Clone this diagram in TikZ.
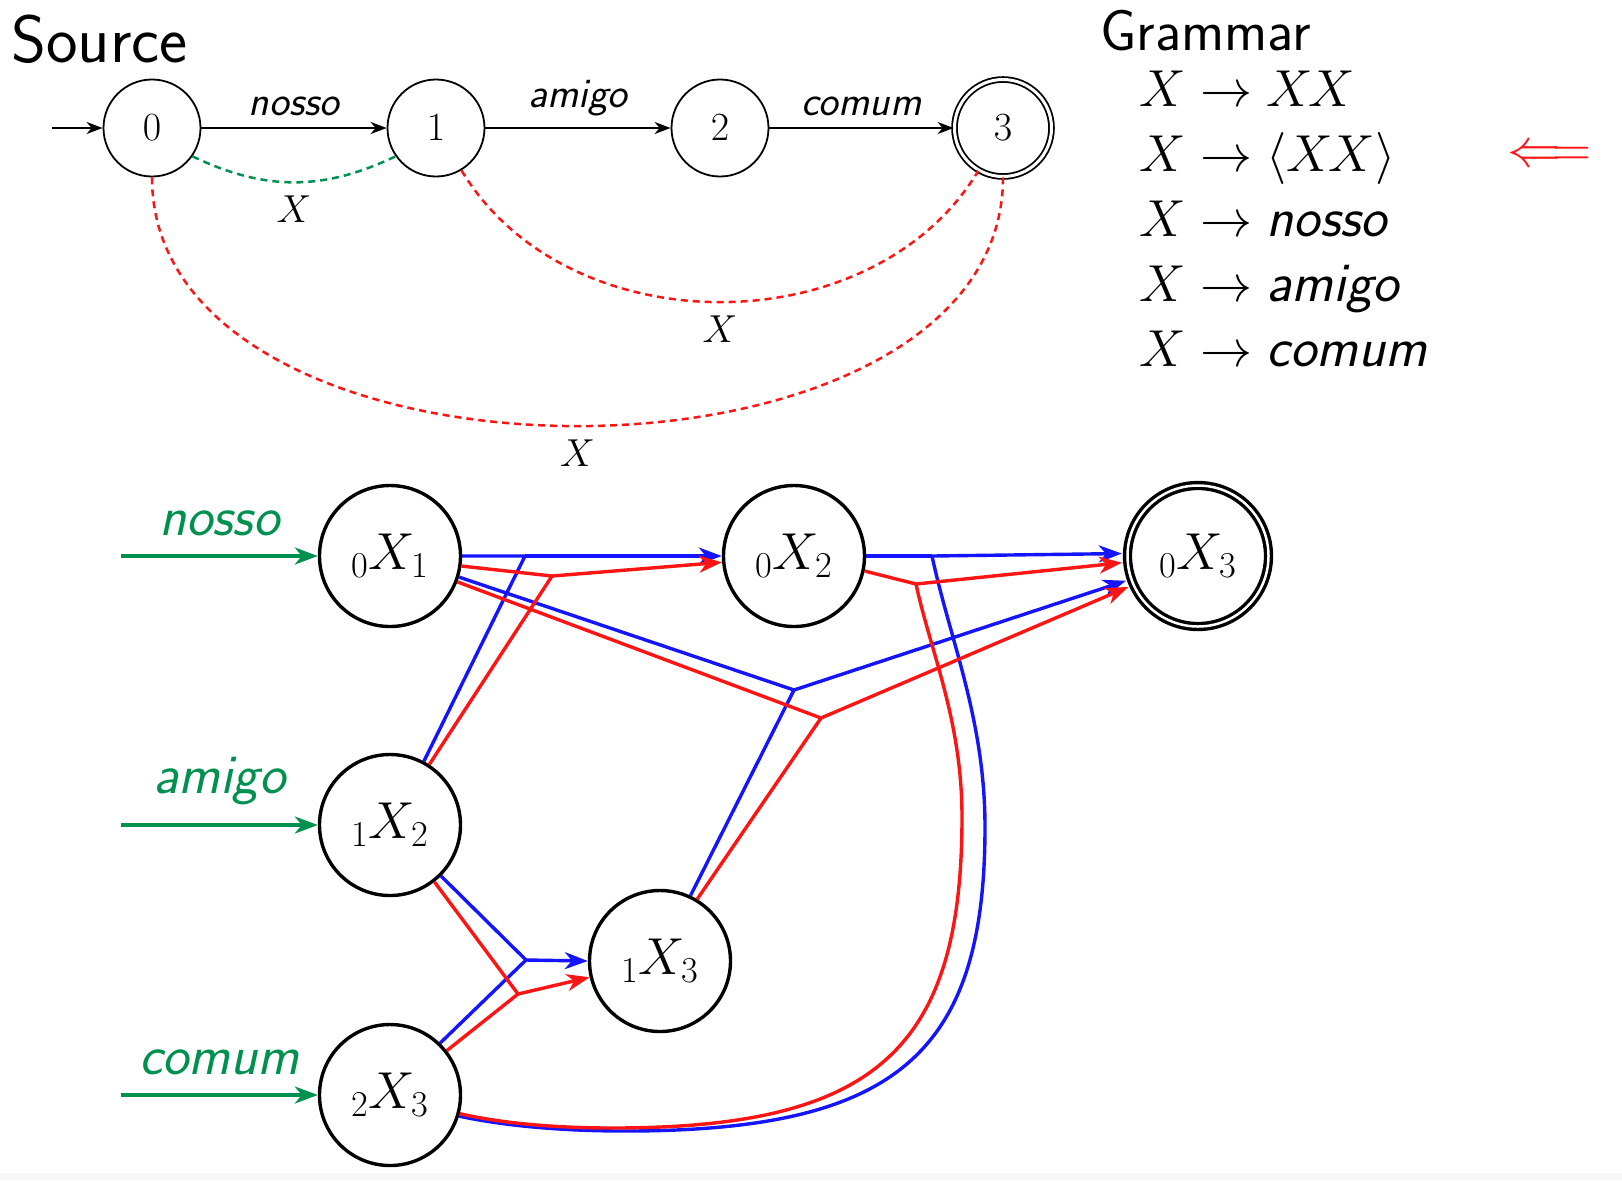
\RequirePackage{fix-cm}
\documentclass[tikz,border=0pt]{standalone}
\usepackage{fontspec}
\usetikzlibrary{arrows.meta}
\definecolor{mygreen}{RGB}{0,145,80}
\definecolor{myblue}{RGB}{20,20,255}
\definecolor{myred}{RGB}{255,20,20}
\begin{document}
\begin{tikzpicture}[x=0.5pt,y=-0.5pt,
  snode/.style={circle, draw, line width=0.9pt, minimum size=48.5pt, inner sep=0pt, font=\fontsize{20}{24}\selectfont},
  tarr/.style={line width=1pt, -{Stealth[length=8pt,width=6pt,inset=2.5pt]}},
  elab/.style={inner sep=5.5pt, font=\sffamily\itshape\fontsize{21}{25}\selectfont},
  xlab/.style={inner sep=6.3pt, font=\fontsize{19.5}{23}\selectfont},
  gdash/.style={mygreen, line width=1.25pt, dash pattern=on 3.5pt off 2.5pt},
  rdash/.style={myred, line width=1.25pt, dash pattern=on 3.5pt off 2.5pt},
  bnode/.style={circle, draw, line width=1.7pt, minimum size=70.5pt, inner sep=0pt, font=\fontsize{26}{30}\selectfont},
  hb/.style={myblue, line width=1.7pt},
  hr/.style={myred, line width=1.7pt},
  harr/.style={-{Stealth[length=11.5pt,width=8.5pt,inset=3.5pt]}},
  garr/.style={mygreen, line width=1.7pt, -{Stealth[length=11.5pt,width=8.5pt,inset=3.5pt]}},
  glab/.style={mygreen, inner sep=9pt, font=\sffamily\itshape\fontsize{28}{32}\selectfont},
  gram/.style={anchor=base west, inner sep=0pt, font=\fontsize{26}{31}\selectfont},
  title/.style={anchor=base west, inner sep=0pt}
]
\useasboundingbox (0,0) rectangle (1622,1180);
\fill[white] (0,0) rectangle (1622,1180);
\fill[gray!6] (0,1173) rectangle (1622,1180);

% ---------- Source automaton ----------
\node[title, font=\sffamily\fontsize{33.5}{40}\selectfont] (src) at (11,62) {Source};
\node[snode] (s0) at (152,128) {$0$};
\node[snode] (s1) at (436,128) {$1$};
\node[snode] (s2) at (720,128) {$2$};
\node[snode, double, double distance=1.5pt] (s3) at (1003,128) {$3$};
\coordinate (init) at (52,128);
\draw[tarr] (init) -- (s0);
\draw[tarr] (s0) -- node[above, elab] {nosso} (s1);
\draw[tarr] (s1) -- node[above, elab] {amigo} (s2);
\draw[tarr] (s2) -- node[above, elab] {comum} (s3);

\draw[gdash] (s0.-35) .. controls (265,191) and (323,191) .. (s1.-145)
  node[pos=0.5, below, xlab, text=black] {$X$};
\draw[rdash] (s1.-59) .. controls (567,346) and (873,346) .. (s3.-120)
  node[pos=0.5, below, xlab, text=black] {$X$};
\draw[rdash] (s0.-90) .. controls (152,509) and (1003,509) .. (s3.-90)
  node[pos=0.5, below, xlab, text=black] {$X$};

% ---------- Grammar ----------
\node[title, font=\sffamily\fontsize{29}{34}\selectfont] (gt) at (1100,50) {Grammar};
\node[gram] (r1) at (1139,106) {$X \to X\mkern-1.5mu X$};
\node[gram] (r2) at (1139,171) {$X \to \langle X\mkern-1.5mu X\rangle$};
\node[gram] (r3) at (1139,236) {$X \to \mbox{\fontsize{28}{32}\selectfont\sffamily\itshape nosso}$};
\node[gram] (r4) at (1139,301) {$X \to \mbox{\fontsize{28}{32}\selectfont\sffamily\itshape amigo}$};
\node[gram] (r5) at (1139,366) {$X \to \mbox{\fontsize{28}{32}\selectfont\sffamily\itshape comum}$};
\node[inner sep=0pt, text=myred, font=\fontsize{27}{32}\selectfont] (arr) at (1549,157) {$\Longleftarrow$};

% ---------- Hypergraph ----------
\node[bnode] (n01) at (390,556) {${}_0X_1$};
\node[bnode] (n02) at (794,556) {${}_0X_2$};
\node[bnode, double, double distance=1.25pt] (n03) at (1198,556) {${}_0X_3$};
\node[bnode] (n12) at (390,825) {${}_1X_2$};
\node[bnode] (n13) at (660,961) {${}_1X_3$};
\node[bnode] (n23) at (390,1095) {${}_2X_3$};

\coordinate (g1) at (121,556);
\coordinate (g2) at (121,825);
\coordinate (g3) at (121,1095);
\draw[garr] (g1) -- node[above, glab] {nosso} (n01);
\draw[garr] (g2) -- node[above, glab] {amigo} (n12);
\draw[garr] (g3) -- node[above, glab] {comum} (n23);

\coordinate (jb1) at (525,556);
\coordinate (jr1) at (552,576);
\coordinate (jb2) at (932,556);
\coordinate (jr2) at (916,584);
\coordinate (jb3) at (794,690);
\coordinate (jr3) at (821,718);
\coordinate (jb4) at (526,960);
\coordinate (jr4) at (518,994);

% blue hyperedges
\draw[hb] (n01.0) -- (jb1) (n12.62) -- (jb1);
\draw[hb, harr] (jb1) -- (n02.180);
\draw[hb] (n02.0) -- (jb2);
\draw[hb] (n23.-17) .. controls (510,1127) and (570,1131) .. (625,1131)
  .. controls (895,1131) and (985,1055) .. (985,827)
  .. controls (985,720) and (950,640) .. (jb2);
\draw[hb, harr, shorten >=2pt] (jb2) -- (n03.178);
\draw[hb] (n01.-17) -- (jb3) (n13.65) -- (jb3);
\draw[hb, harr, shorten >=2pt] (jb3) -- (n03.199);
\draw[hb] (n12.-45) -- (jb4) (n23.46) -- (jb4);
\draw[hb, harr] (jb4) -- (n13.180);

% red hyperedges
\draw[hr] (n01.-8) -- (jr1) (n12.57) -- (jr1);
\draw[hr, harr] (jr1) -- (n02.185);
\draw[hr] (n02.-12) -- (jr2);
\draw[hr] (n23.-15) .. controls (505,1124) and (560,1128) .. (612,1128)
  .. controls (875,1128) and (962,1050) .. (962,817)
  .. controls (962,720) and (930,650) .. (jr2);
\draw[hr, harr, shorten >=2pt] (jr2) -- (n03.185);
\draw[hr] (n01.-21) -- (jr3) (n13.59) -- (jr3);
\draw[hr, harr, shorten >=2pt] (jr3) -- (n03.204);
\draw[hr] (n12.-52) -- (jr4) (n23.38) -- (jr4);
\draw[hr, harr] (jr4) -- (n13.193);
\end{tikzpicture}
\end{document}
